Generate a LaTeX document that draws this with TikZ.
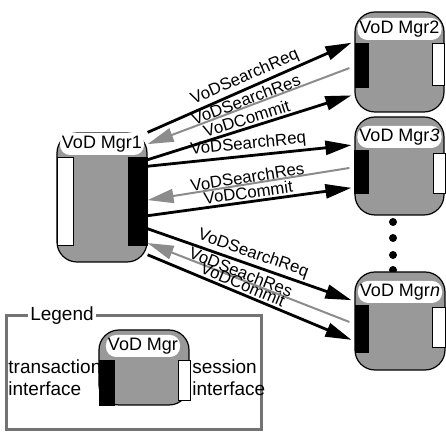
\documentclass[tikz,border=0pt]{standalone}
\usepackage{fontspec}
\setmainfont{Liberation Sans}
\usetikzlibrary{calc}
\usetikzlibrary{arrows.meta}
\tikzset{
  mgr/.style={draw=black, line width=0.6pt, fill=black!40, rounded corners=10pt, inner sep=0pt},
  mgrname/.style={fill=white, rounded corners=5pt, inner sep=1pt, minimum height=11pt, font=\fontsize{9}{10}\selectfont},
  tbar/.style={draw=black, fill=black, inner sep=0pt},
  sbar/.style={draw=black, line width=0.4pt, fill=white, inner sep=0pt},
  msg/.style={line width=1.4pt, -{Triangle[length=13pt,width=7pt]}},
  rmsg/.style={draw=black!45, line width=1pt, {Triangle[length=13pt,width=7pt]}-},
  lbl/.style={font=\fontsize{8.4}{10}\selectfont, sloped, above, inner sep=1pt},
  legendtext/.style={font=\fontsize{9.5}{11}\selectfont, align=left, inner sep=0pt, anchor=west},
}

\begin{document}
\begin{tikzpicture}[x=0.5pt, y=-0.5pt]
\useasboundingbox (0,0) rectangle (446,432);
% managers
\node[mgr, minimum width=45pt, minimum height=64.5pt] (m1) at (102,197.5) {};
\node[mgr, minimum width=44.5pt, minimum height=50pt] (m2) at (399.5,62) {};
\node[mgr, minimum width=44.5pt, minimum height=49pt] (m3) at (399.5,166) {};
\foreach \y in {222,238,255,270}
  \fill (393,\y) circle (2pt);
\node[mgr, minimum width=45pt, minimum height=49pt] (mn) at (400,321) {};

\node[mgrname] (l1) at (102,144) {VoD Mgr1};
\node[mgrname] (l2) at (399.5,29) {VoD Mgr2};
\node[mgrname] (l3) at (399.5,137) {VoD Mgr\textit{3}};
\node[mgrname] (ln) at (400,292) {VoD Mgr\textit{n}};

% interfaces
\node[tbar, minimum width=9.5pt, minimum height=44pt] (t1) at (137.5,201) {};
\node[sbar, minimum width=8pt, minimum height=44pt] (s1) at (65,201) {};
\node[tbar, minimum width=6.5pt, minimum height=22pt] (t2) at (361.5,65) {};
\node[sbar, minimum width=6pt, minimum height=21pt] (s2) at (438,64) {};
\node[tbar, minimum width=7pt, minimum height=21.5pt] (t3) at (361,171.5) {};
\node[sbar, minimum width=6pt, minimum height=20pt] (s3) at (439,173) {};
\node[tbar, minimum width=6.5pt, minimum height=23.5pt] (tn) at (361.5,328.5) {};
\node[sbar, minimum width=6.5pt, minimum height=20pt] (sn) at (438.5,327) {};

% messages
\foreach \dst/\a/\b/\c/\p/\q/\r/\res/\lp in {m2/.31/.56/.83/0/.09/.21/VoDSearchRes/.5,
    m3/.29/.52/.72/.26/.52/.64/VoDSearchRes/.5, mn/.29/.51/.69/.74/.85/.94/VoDSeachRes/.45} {
  \draw[msg] ($(m1.north east)!\p!(m1.south east)$) --
    ($(\dst.north west)!\a!(\dst.south west)+(-1.5pt,0)$) node[lbl, midway] {VoDSearchReq};
  \draw[rmsg] ($(m1.north east)!\q!(m1.south east)$) --
    ($(\dst.north west)!\b!(\dst.south west)+(-2.5pt,0)$) node[lbl, pos=\lp, above=-1pt] {\res};
  \draw[msg] ($(m1.north east)!\r!(m1.south east)$) --
    ($(\dst.north west)!\c!(\dst.south west)+(-1.5pt,0)$) node[lbl, pos=\lp] {VoDCommit};
}

% legend
\draw[black!55, line width=1.5pt] (7,316) rectangle (262,430);
\node[fill=white, inner sep=1pt, font=\fontsize{9.5}{11}\selectfont] (lg) at (62,316) {Legend};
\node[mgr, minimum width=45pt, minimum height=37.5pt] (ml) at (144,367.5) {};
\node[mgrname] (ll) at (143,346) {VoD Mgr};
\node[legendtext] (tx) at (8,378) {transaction\\interface};
\node[tbar, minimum width=7.5pt, minimum height=22.5pt] (tl) at (106.5,382.5) {};
\node[sbar, minimum width=6pt, minimum height=20pt] (sl) at (184,380) {};
\node[legendtext] (sx) at (192,378) {session\\interface};
\end{tikzpicture}
\end{document}
